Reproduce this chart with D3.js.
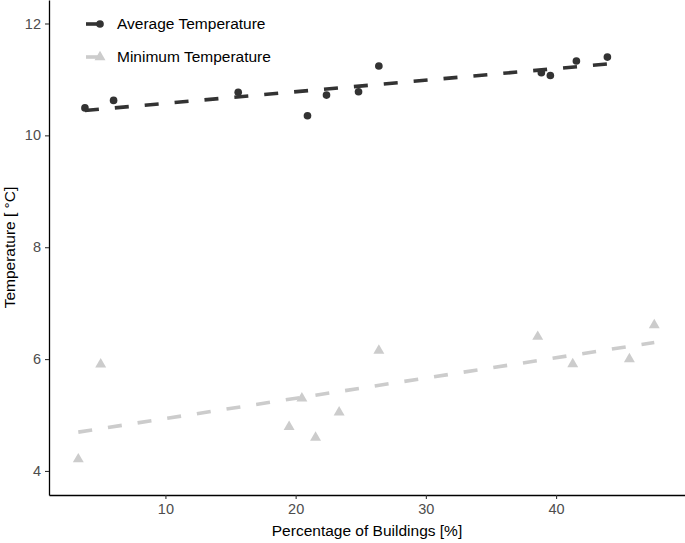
<!DOCTYPE html>
<html>
<head>
<meta charset="utf-8">
<script src="https://cdn.jsdelivr.net/npm/d3@7"></script>
<style>
  html, body { margin: 0; padding: 0; background: #fff; }
  svg { display: block; font-family: "Liberation Sans", Arial, sans-serif; }
</style>
</head>
<body>
<svg id="chart" width="685" height="543"></svg>
<script>
// ---- data ----
const avgBuildings = [3.82, 6.02, 15.59, 20.91, 22.37, 24.83, 26.39, 38.87, 39.56, 41.56, 43.94];
const avgTemp      = [10.49, 10.625, 10.77, 10.35, 10.72, 10.78, 11.24, 11.12, 11.07, 11.33, 11.40];
const minBuildings = [3.31, 5.03, 19.50, 20.48, 21.53, 23.34, 26.39, 38.59, 41.28, 45.63, 47.54];
const minTemp      = [4.21, 5.905, 4.79, 5.30, 4.595, 5.05, 6.15, 6.40, 5.91, 6.00, 6.61];
const xTicks = [10, 20, 30, 40];
const yTicks = [4, 6, 8, 10, 12];
const seriesNames = ["Average Temperature", "Minimum Temperature"];

const svg = d3.select("#chart");
const padL = 49, padR = 685, padT = 0, padB = 495;

const x = d3.scaleLinear().domain([1.06, 49.9]).range([padL, padR]);
const y = d3.scaleLinear().domain([3.57, 12.42]).range([padB, padT]);

// least-squares fit
function fit(xs, ys) {
  const mx = d3.mean(xs), my = d3.mean(ys);
  let sxy = 0, sxx = 0;
  xs.forEach((v, i) => { sxy += (v - mx) * (ys[i] - my); sxx += (v - mx) * (v - mx); });
  const b = sxy / sxx, a = my - b * mx;
  const x0 = d3.min(xs), x1 = d3.max(xs);
  return [[x0, a + b * x0], [x1, a + b * x1]];
}

const series = [
  { name: seriesNames[0], xs: avgBuildings, ys: avgTemp, color: "#333333", shape: "circle" },
  { name: seriesNames[1], xs: minBuildings, ys: minTemp, color: "#cccccc", shape: "triangle" }
];

const line = d3.line().x(d => x(d[0])).y(d => y(d[1]));
const circleSym = d3.symbol().type(d3.symbolCircle).size(46);
const triSym = d3.symbol().type(d3.symbolTriangle).size(52);

series.forEach(s => {
  const g = svg.append("g");
  const pts = s.xs.map((v, i) => [v, s.ys[i]]);
  g.selectAll("path.pt").data(pts).join("path")
    .attr("class", "pt")
    .attr("d", s.shape === "circle" ? circleSym : triSym)
    .attr("transform", d => `translate(${x(d[0])},${y(d[1])})`)
    .attr("fill", s.color);
  g.append("path")
    .attr("d", line(fit(s.xs, s.ys)))
    .attr("fill", "none")
    .attr("stroke", s.color)
    .attr("stroke-width", 3.6)
    .attr("stroke-dasharray", "14,16");
});

// axes
const xAxis = svg.append("g").attr("transform", `translate(0,${padB})`)
  .call(d3.axisBottom(x).tickValues(xTicks).tickSize(4).tickPadding(5).tickSizeOuter(0));
const yAxis = svg.append("g").attr("transform", `translate(${padL},0)`)
  .call(d3.axisLeft(y).tickValues(yTicks).tickSize(4).tickPadding(4).tickSizeOuter(0));
[xAxis, yAxis].forEach(a => {
  a.select(".domain").attr("stroke", "#000").attr("stroke-width", 1.3);
  a.selectAll(".tick line").attr("stroke", "#333").attr("stroke-width", 1.1);
  a.selectAll(".tick text").attr("fill", "#4d4d4d").style("font-size", "14.5px")
    .style("font-family", "'Liberation Sans', Arial, sans-serif");
});

// axis titles
svg.append("text").attr("x", (padL + padR) / 2).attr("y", 536)
  .attr("text-anchor", "middle").attr("fill", "#000").style("font-size", "15.5px")
  .text("Percentage of Buildings [%]");
svg.append("text").attr("transform", `translate(15,${(padT + padB) / 2}) rotate(-90)`)
  .attr("text-anchor", "middle").attr("fill", "#000").style("font-size", "15.5px")
  .text("Temperature [ °C]");

// legend
const legY = [24, 57];
series.forEach((s, i) => {
  const g = svg.append("g").attr("transform", `translate(0,${legY[i]})`);
  g.append("line").attr("x1", 86).attr("x2", 100).attr("y1", 0).attr("y2", 0)
    .attr("stroke", s.color).attr("stroke-width", 3.6);
  g.append("path").attr("d", s.shape === "circle" ? circleSym() : triSym())
    .attr("transform", "translate(100,0)").attr("fill", s.color);
  g.append("text").attr("x", 117).attr("y", 0).attr("dy", "0.35em")
    .attr("fill", "#000").style("font-size", "15.5px").text(s.name);
});
</script>
</body>
</html>
